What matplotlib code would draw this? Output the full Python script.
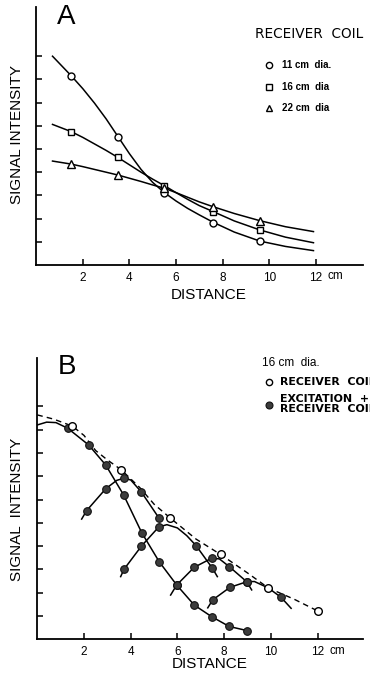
"""Two-panel signal intensity vs distance plot (receiver coil sizes / excitation)."""
import matplotlib
matplotlib.use("Agg")
import matplotlib.pyplot as plt

plt.rcParams["font.family"] = ["Liberation Sans", "DejaVu Sans"]

# ---------- panel A: receiver coil diameters ----------
dist_a = [1.5, 3.5, 5.5, 7.6, 9.6]
sig_11 = [8.16, 5.53, 3.12, 1.82, 1.03]
sig_16 = [5.75, 4.64, 3.42, 2.30, 1.51]
sig_22 = [4.35, 3.88, 3.31, 2.51, 1.91]

# hand-drawn fitted curves
curve_x_a = [0.7, 1.5, 2.0, 2.5, 3.0, 3.5, 4.0, 4.5, 5.0, 5.5, 6.0, 6.5, 7.0, 7.6, 8.5, 9.6, 10.7, 11.9]
curve_11 = [9.00, 8.16, 7.60, 6.98, 6.30, 5.55, 4.80, 4.12, 3.56, 3.12, 2.76, 2.44, 2.16, 1.84, 1.42, 1.03, 0.80, 0.62]
curve_16 = [6.06, 5.75, 5.50, 5.22, 4.94, 4.64, 4.32, 4.00, 3.70, 3.42, 3.12, 2.83, 2.56, 2.30, 1.90, 1.51, 1.20, 0.96]
curve_22 = [4.48, 4.35, 4.24, 4.12, 4.00, 3.88, 3.74, 3.60, 3.45, 3.31, 3.12, 2.92, 2.72, 2.51, 2.22, 1.91, 1.65, 1.44]

legend_a = ["11 cm  dia.", "16 cm  dia", "22 cm  dia"]

# ---------- panel B: 16 cm coil ----------
recv_x = [1.5, 3.6, 5.7, 7.85, 9.9, 12.0]
recv_y = [9.15, 7.27, 5.2, 3.64, 2.2, 1.22]
recv_line_x = [0, 0.7, 1.5, 2.0, 2.5, 3.0, 3.6, 4.4, 5.0, 5.7, 6.8, 7.85, 9.0, 9.9, 11.0, 12.0]
recv_line_y = [9.63, 9.45, 9.15, 8.75, 8.1, 7.7, 7.27, 6.5, 5.8, 5.2, 4.3, 3.64, 2.85, 2.2, 1.72, 1.22]

# excitation + receiver, one curve per excitation position
exc1_x = [1.3, 2.2, 2.93, 3.7, 4.47, 5.22, 5.97, 6.72, 7.47, 8.22, 9.0]
exc1_y = [9.06, 8.34, 7.48, 6.19, 4.58, 3.33, 2.33, 1.47, 0.97, 0.55, 0.37]
exc1_line_x = [0, 0.4, 0.8, 1.3, 2.2, 2.93, 3.7, 4.47, 5.22, 5.97, 6.72, 7.47, 8.22, 9.0]
exc1_line_y = [9.2, 9.32, 9.3, 9.06, 8.34, 7.48, 6.19, 4.58, 3.33, 2.33, 1.47, 0.97, 0.55, 0.37]

exc2_x = [2.11, 2.93, 3.7, 4.45, 5.2]
exc2_y = [5.52, 6.46, 6.91, 6.33, 5.22]
exc2_line_x = [1.9, 2.11, 2.93, 3.4, 3.7, 4.0, 4.45, 5.2]
exc2_line_y = [5.16, 5.52, 6.46, 6.82, 6.91, 6.84, 6.33, 5.22]

exc3_x = [3.71, 4.46, 5.2, 6.8, 7.5]
exc3_y = [3.0, 4.0, 4.82, 4.02, 3.05]
exc3_line_x = [3.57, 3.71, 4.46, 5.2, 5.55, 6.0, 6.4, 6.8, 7.5, 7.71]
exc3_line_y = [2.69, 3.0, 4.0, 4.82, 4.92, 4.78, 4.45, 4.02, 3.05, 2.69]

exc4_x = [5.97, 6.72, 7.47, 8.22, 8.97]
exc4_y = [2.33, 3.09, 3.48, 3.12, 2.47]
exc4_line_x = [5.71, 5.97, 6.72, 7.47, 7.8, 8.22, 8.97, 9.18]
exc4_line_y = [1.9, 2.33, 3.09, 3.48, 3.45, 3.12, 2.47, 2.12]

exc5_x = [7.51, 8.25, 8.97, 10.44]
exc5_y = [1.69, 2.23, 2.47, 1.8]
exc5_line_x = [7.3, 7.51, 8.25, 8.97, 9.3, 9.9, 10.44, 10.87]
exc5_line_y = [1.35, 1.69, 2.23, 2.47, 2.48, 2.2, 1.8, 1.33]

xticks = [2, 4, 6, 8, 10, 12]

W, H = 370, 680
fig = plt.figure(figsize=(W / 100, H / 100), dpi=100)


def px_axes(left, bottom, right, top):
    return fig.add_axes([left / W, 1 - bottom / H, (right - left) / W, (bottom - top) / H])


def style(ax, xmax, ymax, yticks):
    ax.set_xlim(0, xmax)
    ax.set_ylim(0, ymax)
    for s in ("top", "right"):
        ax.spines[s].set_visible(False)
    for s in ("left", "bottom"):
        ax.spines[s].set_linewidth(1.3)
    ax.set_xticks(xticks)
    ax.set_xticklabels([str(t) for t in xticks])
    ax.set_yticks(yticks)
    ax.set_yticklabels([])
    ax.tick_params(direction="in", length=4, width=1.1, labelsize=8.5, pad=5)
    ax.patch.set_visible(False)


def fig_marker(x, y, **kw):
    fig.lines.append(plt.Line2D([x / W], [1 - y / H], transform=fig.transFigure, **kw))


lw = 1.1
leg_font = dict(family="DejaVu Sans", fontweight="bold", fontsize=7.9, ha="left", va="center")

# ---------------- panel A ----------------
axa = px_axes(36.2, 265, 363, 7)
style(axa, (363 - 36.2) / 23.3, 258 / 23.2, range(1, 10))
axa.plot(curve_x_a, curve_11, color="k", lw=lw)
axa.plot(curve_x_a, curve_16, color="k", lw=lw)
axa.plot(curve_x_a, curve_22, color="k", lw=lw)
mk = dict(ls="none", mfc="white", mec="k", mew=1.0, zorder=3)
axa.plot(dist_a, sig_11, marker="o", ms=5, **mk)
axa.plot(dist_a, sig_16, marker="s", ms=5, **mk)
axa.plot(dist_a, sig_22, marker="^", ms=5.5, **mk)

fig.text(66.5 / W, 1 - 17.5 / H, "A", fontsize=20, ha="center", va="center")
fig.text(255 / W, 1 - 34 / H, "RECEIVER  COIL", family="DejaVu Sans", fontsize=9.8,
         ha="left", va="center")
for i, (m, lab) in enumerate(zip(["o", "s", "^"], legend_a)):
    y = 65 + 21.5 * i
    fig_marker(269, y, marker=m, ms=4.5, mfc="white", mec="k", mew=1.0)
    fig.text(282 / W, 1 - y / H, lab, fontsize=7, fontweight="bold", ha="left", va="center")

fig.text(17 / W, 1 - 134 / H, "SIGNAL INTENSITY", rotation=90, fontsize=11,
         ha="center", va="center")
fig.text(209 / W, 1 - 295 / H, "DISTANCE", fontsize=11, ha="center", va="center")
fig.text(328 / W, 1 - 276 / H, "cm", fontsize=8.5, ha="left", va="center")

# ---------------- panel B ----------------
axb = px_axes(37.3, 639.3, 363, 358)
style(axb, (363 - 37.3) / 23.35, 281.3 / 23.3, range(1, 11))
axb.plot(recv_line_x, recv_line_y, color="k", lw=1.0, ls=(0, (4, 3)))
for lx, ly in [(exc1_line_x, exc1_line_y), (exc2_line_x, exc2_line_y),
               (exc3_line_x, exc3_line_y), (exc4_line_x, exc4_line_y),
               (exc5_line_x, exc5_line_y)]:
    axb.plot(lx, ly, color="k", lw=lw)
fk = dict(ls="none", marker="o", ms=5.5, mfc="#3c3c3c", mec="#111111", mew=0.8, zorder=3)
for ex, ey in [(exc1_x, exc1_y), (exc2_x, exc2_y), (exc3_x, exc3_y),
               (exc4_x, exc4_y), (exc5_x, exc5_y)]:
    axb.plot(ex, ey, **fk)
axb.plot(recv_x, recv_y, ls="none", marker="o", ms=5.5, mfc="white", mec="k", mew=1.0, zorder=4)

fig.text(67 / W, 1 - 366.7 / H, "B", fontsize=20, ha="center", va="center")
fig.text(262 / W, 1 - 363 / H, "16 cm  dia.", fontsize=8.5, ha="left", va="center")
fig_marker(269.3, 381.7, marker="o", ms=4.5, mfc="white", mec="k", mew=1.0)
fig.text(280 / W, 1 - 381.7 / H, "RECEIVER  COIL", **leg_font)
fig_marker(269.3, 405, marker="o", ms=5, mfc="#3c3c3c", mec="#111111", mew=0.8)
fig.text(280 / W, 1 - 399.5 / H, "EXCITATION  +", **leg_font)
fig.text(280 / W, 1 - 409.5 / H, "RECEIVER  COIL", **leg_font)

fig.text(17 / W, 1 - 509 / H, "SIGNAL  INTENSITY", rotation=90, fontsize=11,
         ha="center", va="center")
fig.text(210 / W, 1 - 664.5 / H, "DISTANCE", fontsize=11, ha="center", va="center")
fig.text(329 / W, 1 - 650.5 / H, "cm", fontsize=8.5, ha="left", va="center")

fig.savefig("out.png", dpi=100)
